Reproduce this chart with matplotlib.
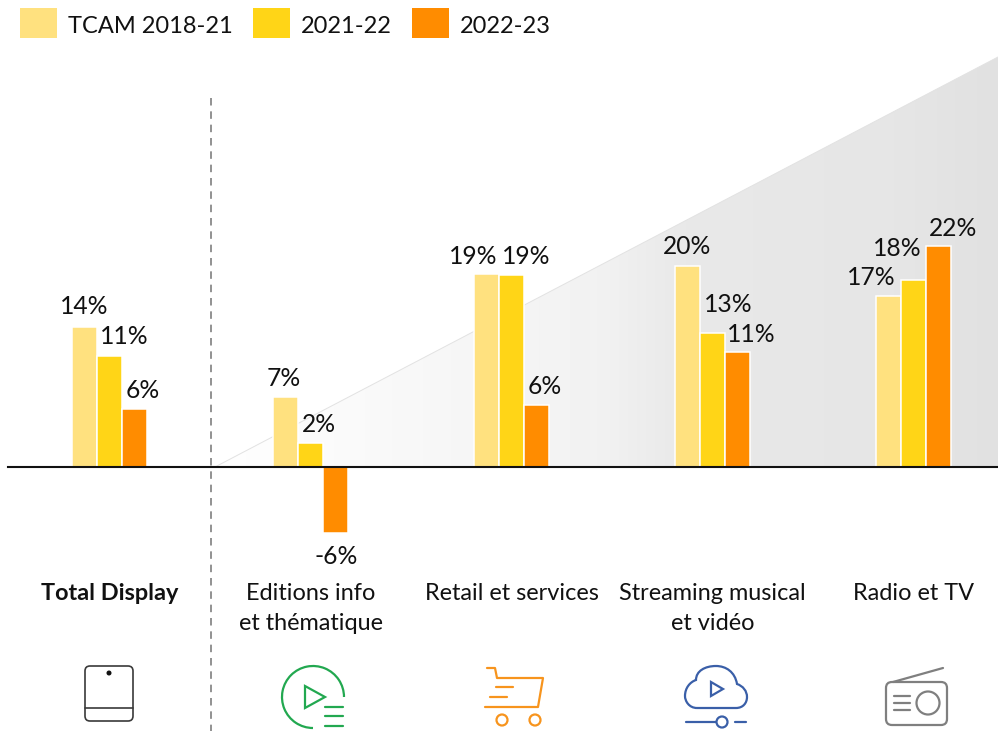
import numpy as np
import matplotlib
matplotlib.use('Agg')
import matplotlib.pyplot as plt
from matplotlib.colors import LinearSegmentedColormap
from matplotlib.patches import Polygon, Circle, Arc, FancyBboxPatch, PathPatch
from matplotlib.path import Path

plt.rcParams['font.family'] = ['Lato', 'DejaVu Sans']

categories = ['Total Display', 'Editions info\net thématique', 'Retail et services',
              'Streaming musical\net vidéo', 'Radio et TV']
series_names = ['TCAM 2018-21', '2021-22', '2022-23']
tcam = [14.0, 7.0, 19.3, 20.1, 17.1]
y2122 = [11.1, 2.4, 19.2, 13.4, 18.7]
y2223 = [5.8, -6.6, 6.2, 11.5, 22.1]
labels_tcam = ['14%', '7%', '19%', '20%', '17%']
labels_2122 = ['11%', '2%', '19%', '13%', '18%']
labels_2223 = ['6%', '-6%', '6%', '11%', '22%']

colors = ['#FFE17F', '#FFD517', '#FF8C00']

# label offsets from the bar end, in pixels
dx_tcam = [-1, -2, -14, -1, -17]
dy_tcam = [21, 18, 18, 19, 18]
dx_2122 = [15, 8, 14, 16, -16]
dy_2122 = [19, 19, 19, 28, 32]
dx_2223 = [8, 0, 8, 14, 14]
dy_2223 = [18, -23, 18, 18, 17]

W, H = 998, 731
fig = plt.figure(figsize=(W / 100, H / 100), dpi=100)

# background layer in pixel coordinates: gradient wedge, separators, icons
bg = fig.add_axes([0, 0, 1, 1])
bg.set_xlim(0, W)
bg.set_ylim(H, 0)
bg.axis('off')

grad = np.linspace(0, 1, 256).reshape(1, -1)
wedge_cmap = LinearSegmentedColormap.from_list(
    'w', [(0, '#FFFFFF'), (0.49, '#F2F2F2'), (0.6, '#E9E9E9'), (0.87, '#E6E6E6'), (1, '#E1E1E1')])
img = bg.imshow(grad, extent=[215, 998, 467, 57], aspect='auto', zorder=1, cmap=wedge_cmap)
wedge = Polygon([(215, 467), (998, 57), (998, 467)], transform=bg.transData,
                facecolor='none', edgecolor='none')
bg.add_patch(wedge)
img.set_clip_path(wedge)
bg.plot([215, 998], [467, 57], color='#E2E2E2', lw=0.7, zorder=1)
bg.set_xlim(0, W)
bg.set_ylim(H, 0)

bg.plot([211, 211], [98, 731], color='#7F7F7F', lw=1.2, dashes=(4.5, 3.5), zorder=2)


def line(xs, ys, color, lw=1.6):
    bg.plot(xs, ys, color=color, lw=lw, solid_capstyle='round', solid_joinstyle='round', zorder=3)


def ring(x, y, r, color, lw=1.6):
    bg.add_patch(Circle((x, y), r, fill=False, edgecolor=color, lw=lw, zorder=3))


# tablet
c = '#3A3A3A'
bg.add_patch(FancyBboxPatch((85, 666), 48, 55, boxstyle='round,pad=0,rounding_size=5',
                            fill=False, edgecolor=c, lw=1.2, zorder=3))
line([85, 133], [708, 708], c, 1.2)
bg.add_patch(Circle((109, 673), 1.8, color='#111111', zorder=3))

# play list
c = '#22A850'
bg.add_patch(Arc((313, 697), 62, 62, theta1=90, theta2=360, edgecolor=c, lw=1.6, zorder=3))
bg.add_patch(Polygon([(305, 686), (305, 708), (325, 697)], closed=True, fill=False,
                     edgecolor=c, lw=1.6, zorder=3))
for yy in [707, 716, 726]:
    line([325, 343], [yy, yy], c)

# cart
c = '#F7941D'
line([487, 495, 497, 543, 538, 485], [668, 668, 678, 678, 707, 707], c)
line([496, 513], [687, 687], c)
line([490, 507], [697, 697], c)
ring(502, 720, 5.5, c)
ring(535, 720, 5.5, c)

# cloud
c = '#3A5FA8'
cloud = Path([(697, 708), (689, 708), (685, 701), (685, 696),
              (685, 688), (690, 682), (696, 680),
              (696, 671), (705, 666), (716, 666),
              (726, 666), (735, 672), (737, 684),
              (743, 686), (747, 691), (747, 697),
              (747, 703), (743, 708), (736, 708),
              (697, 708)],
             [Path.MOVETO, Path.CURVE4, Path.CURVE4, Path.CURVE4,
              Path.CURVE4, Path.CURVE4, Path.CURVE4,
              Path.CURVE4, Path.CURVE4, Path.CURVE4,
              Path.CURVE4, Path.CURVE4, Path.CURVE4,
              Path.CURVE4, Path.CURVE4, Path.CURVE4,
              Path.CURVE4, Path.CURVE4, Path.CURVE4,
              Path.LINETO])
bg.add_patch(PathPatch(cloud, fill=False, edgecolor=c, lw=1.6, zorder=3))
bg.add_patch(Polygon([(711, 682), (711, 696), (723, 689)], closed=True, fill=False,
                     edgecolor=c, lw=1.6, zorder=3))
line([686, 716], [722, 722], c)
line([735, 746], [722, 722], c)
ring(722, 722, 5.5, c)

# radio
c = '#7F7F7F'
bg.add_patch(FancyBboxPatch((886, 682), 61, 43, boxstyle='round,pad=0,rounding_size=6',
                            fill=False, edgecolor=c, lw=1.6, zorder=3))
line([893, 943], [682, 668], c)
ring(928, 703, 11.5, c)
for yy in [696, 703, 710]:
    line([894, 910], [yy, yy], c)

# bars on a transparent axes: one group every 201 px, 10 px per percentage point
ax = fig.add_axes([0, 0, 1, 1], facecolor='none')
ax.set_xlim(-109.7 / 201, (W - 109.7) / 201)
ax.set_ylim((467 - H) / 10, 467 / 10)
ax.axis('off')

x = np.arange(len(categories))
pitch = 25 / 201
series = [tcam, y2122, y2223]
all_labels = [labels_tcam, labels_2122, labels_2223]
all_dx = [dx_tcam, dx_2122, dx_2223]
all_dy = [dy_tcam, dy_2122, dy_2223]
handles = []
for k in range(3):
    bars = ax.bar(x + (k - 1) * pitch, series[k], width=25 / 201, color=colors[k],
                  edgecolor='white', linewidth=1.1, label=series_names[k], zorder=3)
    handles.append(bars)
    for i, rect in enumerate(bars):
        ax.annotate(all_labels[k][i], (rect.get_x() + rect.get_width() / 2, series[k][i]),
                    xytext=(all_dx[k][i] * 0.72, all_dy[k][i] * 0.72), textcoords='offset points',
                    ha='center', va='center', fontsize=17.7, color='#111111', zorder=5)

ax.plot([(8 - 109.7) / 201, (W - 109.7) / 201], [0, 0], color='#111111', lw=1.5, zorder=4)

for i, name in enumerate(categories):
    lines = name.split('\n')
    for j, part in enumerate(lines):
        ax.text(i, (467 - 594 - j * 29) / 10, part, ha='center', va='center', fontsize=16.9,
                fontweight='bold' if i == 0 else 'normal', color='#111111')

leg = ax.legend(handles=handles, ncol=3, frameon=False, loc='upper left',
                bbox_to_anchor=(20 / W, 1 - 8 / H), bbox_transform=fig.transFigure,
                fontsize=17, handlelength=1.57, handleheight=1.58, handletextpad=0.47,
                columnspacing=0.85, borderaxespad=0, borderpad=0, labelcolor='#111111')
for h in leg.legend_handles:
    h.set_linewidth(0)
for t in leg.get_texts():
    t.set_y(-2)

fig.savefig('out.png', dpi=100)
